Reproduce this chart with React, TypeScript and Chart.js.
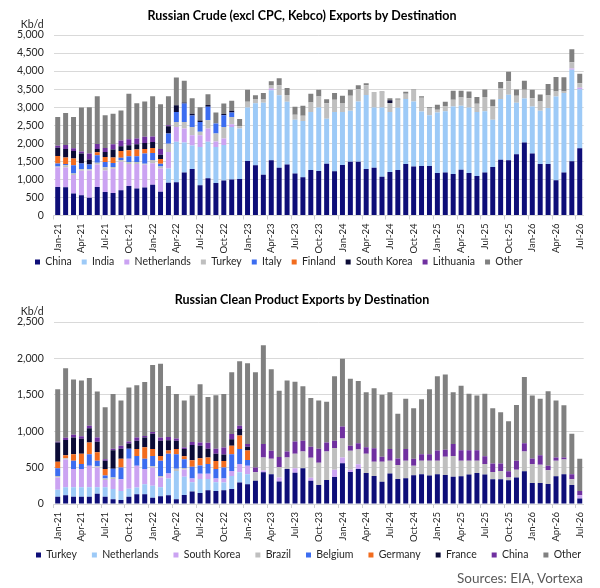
import React, { useEffect, useRef } from "react";
import { Chart, registerables } from "chart.js";

Chart.register(...registerables);

const FONT = "Lato, 'Open Sans', sans-serif";
Chart.defaults.font.family = FONT;

const months = [
  "Jan-21","Feb-21","Mar-21","Apr-21","May-21","Jun-21","Jul-21","Aug-21","Sep-21","Oct-21","Nov-21","Dec-21",
  "Jan-22","Feb-22","Mar-22","Apr-22","May-22","Jun-22","Jul-22","Aug-22","Sep-22","Oct-22","Nov-22","Dec-22",
  "Jan-23","Feb-23","Mar-23","Apr-23","May-23","Jun-23","Jul-23","Aug-23","Sep-23","Oct-23","Nov-23","Dec-23",
  "Jan-24","Feb-24","Mar-24","Apr-24","May-24","Jun-24","Jul-24","Aug-24","Sep-24","Oct-24","Nov-24","Dec-24",
  "Jan-25","Feb-25","Mar-25","Apr-25","May-25","Jun-25","Jul-25","Aug-25","Sep-25","Oct-25","Nov-25","Dec-25",
  "Jan-26","Feb-26","Mar-26","Apr-26","May-26","Jun-26","Jul-26",
];

const crudeTitle = "Russian Crude (excl CPC, Kebco) Exports by Destination";
const productTitle = "Russian Clean Product Exports by Destination";
const unitLabel = "Kb/d";
const sourceText = "Sources: EIA, Vortexa";

const crudeTicks = [0, 500, 1000, 1500, 2000, 2500, 3000, 3500, 4000, 4500, 5000];
const productTicks = [0, 500, 1000, 1500, 2000, 2500];

// ---------- Crude (kb/d) ----------
const crudeChina = [790,780,610,560,490,790,650,625,700,820, 750,775,850,660,910,920,1190,1290,840,1030,
  900,970,1000,1010,1510,1390,1130,1530,1320,1410, 1160,1060,1260,1235,1435,1225,1400,1490,1490,1290,
  1325,1070,1205,1260,1430,1355,1370,1370,1180,1190, 1150,1270,1180,1095,1190,1345,1545,1530,1695,2025,
  1715,1430,1430,975,1190,1500,1860];
const crudeIndia = [0,0,0,0,0,0,0,0,0,0, 0,0,0,0,390,1120,830,650,1060,1010,
  1000,980,1450,1400,1480,1720,1990,1940,2010,1740, 1490,1560,1610,1760,1245,1640,1465,1410,1670,2045,
  1670,1925,1660,1725,1795,1805,1510,1410,1675,1695, 1870,1770,1815,1770,1695,1305,1680,1815,1425,1215,
  1305,1470,1545,2320,2200,2535,1640];
const crudeNetherlands = [550,550,510,680,760,620,600,670,790,610, 680,630,600,640,460,410,390,280,320,370,
  150,180,80,0,0,0,0,50,0,0, 0,0,0,0,0,0,0,0,0,0,
  0,0,0,0,0,0,0,0,0,0, 0,0,0,0,0,0,0,0,0,0,
  0,0,0,0,0,40,40];
const crudeTurkey = [20,60,40,40,30,50,90,50,50,50, 50,30,90,60,230,140,180,230,100,230,
  220,320,200,60,160,100,90,80,280,190, 140,140,260,300,430,340,250,415,340,275,
  395,415,250,220,145,320,380,195,75,135, 185,230,255,230,395,370,305,375,195,240,
  230,260,350,140,45,170,125];
const crudeItaly = [80,40,230,160,130,210,140,110,60,160, 160,280,190,75,280,280,510,320,270,370,
  280,330,120,0,0,0,0,0,0,0, 0,0,0,0,0,0,0,0,0,0,
  0,0,0,0,0,0,0,0,0,0, 0,0,0,0,0,0,0,0,0,0,
  0,0,0,0,0,0,0];
const crudeFinland = [210,180,190,0,0,80,140,150,185,165, 185,130,140,130,0,0,0,0,0,0,
  0,0,0,0,0,0,0,0,0,0, 0,0,0,0,0,0,0,0,0,0,
  0,0,0,0,0,0,0,0,0,0, 0,0,0,0,0,0,0,0,0,0,
  0,0,0,0,0,0,0];
const crudeSouthKorea = [230,230,210,280,140,90,140,220,130,140, 150,165,165,120,200,185,30,50,40,50,
  0,30,50,0,0,0,0,0,0,0, 0,0,0,0,0,0,0,0,0,0,
  0,0,80,0,0,0,0,0,0,0, 0,0,0,0,0,0,0,0,0,0,
  0,0,0,0,0,0,0];
const crudeLithuania = [50,110,70,50,170,140,110,150,165,165, 155,170,150,160,30,0,0,0,0,0,
  0,0,0,0,0,0,0,0,0,0, 0,0,0,0,0,0,0,0,0,0,
  0,0,0,0,0,0,0,0,0,0, 0,0,0,0,0,0,0,0,0,0,
  0,0,0,0,0,0,0];
const crudeOther = [800,890,870,1220,1280,1320,910,845,830,1260, 980,980,1115,1240,800,770,600,430,370,300,
  300,290,280,200,330,120,180,120,190,190, 220,280,240,185,110,185,200,165,110,55,
  20,25,55,35,55,20,40,25,137,130, 250,185,185,185,210,195,170,260,175,250,
  230,190,315,405,395,360,260];

// ---------- Clean products (kb/d) ----------
const prodTurkey = [100,120,100,100,100,140,100,65,55,100, 135,135,85,105,120,65,125,170,150,190,
  180,190,205,295,270,320,435,410,310,480, 430,490,320,260,330,370,560,440,480,425,
  385,305,420,345,355,395,410,390,410,400, 375,380,405,425,405,340,340,325,365,450,
  290,290,275,380,410,260,75];
const prodNetherlands = [95,110,130,130,130,90,130,140,125,110, 90,135,165,125,230,390,250,130,195,155,
  120,105,180,140,140,0,0,0,0,0, 0,0,0,0,0,0,0,0,0,0,
  0,0,0,0,0,0,0,0,0,0, 0,0,0,0,0,0,0,0,0,0,
  0,0,0,0,0,0,0];
const prodSouthKorea = [170,380,250,250,295,270,100,140,160,410, 300,210,250,135,70,0,100,50,70,70,
  50,55,70,115,115,0,25,0,55,0, 60,0,40,0,0,100,80,30,65,0,
  0,0,0,0,0,0,0,0,0,0, 0,0,0,0,0,0,0,0,0,0,
  0,0,0,0,0,0,45];
const prodBrazil = [20,20,0,0,0,20,20,20,0,0, 0,0,20,20,0,30,20,0,0,0,
  0,0,0,0,0,115,180,210,140,160, 200,230,275,305,390,300,260,260,205,265,
  195,275,175,190,240,130,185,205,185,250, 285,215,190,170,145,100,115,40,105,270,
  260,250,190,215,200,80,0];
const prodBelgium = [105,0,115,70,160,75,40,120,160,140, 135,140,140,210,270,200,120,160,115,135,
  130,150,230,205,80,0,0,0,0,0, 0,0,0,0,0,0,0,0,0,0,
  0,0,0,0,0,0,0,0,0,0, 0,0,0,0,0,0,0,0,0,0,
  0,0,0,0,0,0,0];
const prodGermany = [90,40,90,140,160,115,90,0,120,0, 95,160,95,65,45,70,40,90,100,90,
  110,90,115,185,130,0,0,0,0,0, 0,0,0,0,0,0,0,0,0,0,
  0,0,0,0,0,0,0,0,0,0, 0,0,0,0,0,0,0,0,0,0,
  0,0,0,0,0,0,0];
const prodFrance = [265,210,230,205,195,145,115,255,140,70, 115,135,210,210,140,115,100,210,170,120,
  100,90,90,90,50,0,0,0,0,0, 0,0,0,0,0,0,0,0,0,0,
  0,0,0,0,0,0,0,0,0,0, 0,0,0,0,0,0,0,0,0,0,
  0,0,0,0,0,0,0];
const prodChina = [10,30,35,35,35,60,20,20,40,30, 45,20,25,45,45,30,20,40,45,80,
  70,95,70,45,40,65,185,110,140,80, 170,150,150,195,125,100,165,70,85,90,
  185,70,160,90,160,95,90,90,140,95, 165,145,145,145,105,115,100,85,125,115,
  75,130,60,45,30,70,60];
const prodOther = [720,955,760,765,655,630,715,750,620,740, 715,740,920,1010,700,610,645,640,800,630,
  735,735,850,885,1110,1310,1355,1120,910,975, 820,746,670,660,560,885,930,920,855,755,
  825,850,780,615,690,695,755,890,1020,1035, 710,885,775,750,860,760,705,685,765,910,
  865,775,1025,780,715,555,440];

const C_NAVY = "#0e0e78";
const C_LBLUE = "#9dcaf7";
const C_LAV = "#cba3f2";
const C_LGRAY = "#bfbfbf";
const C_BLUE = "#3c6df0";
const C_ORANGE = "#f26c1e";
const C_DARK = "#0b0b36";
const C_PURPLE = "#7030a0";
const C_GRAY = "#808080";

const crudeSeries = [
  { label: "China", data: crudeChina, color: C_NAVY },
  { label: "India", data: crudeIndia, color: C_LBLUE },
  { label: "Netherlands", data: crudeNetherlands, color: C_LAV },
  { label: "Turkey", data: crudeTurkey, color: C_LGRAY },
  { label: "Italy", data: crudeItaly, color: C_BLUE },
  { label: "Finland", data: crudeFinland, color: C_ORANGE },
  { label: "South Korea", data: crudeSouthKorea, color: C_DARK },
  { label: "Lithuania", data: crudeLithuania, color: C_PURPLE },
  { label: "Other", data: crudeOther, color: C_GRAY },
];

const productSeries = [
  { label: "Turkey", data: prodTurkey, color: C_NAVY },
  { label: "Netherlands", data: prodNetherlands, color: C_LBLUE },
  { label: "South Korea", data: prodSouthKorea, color: C_LAV },
  { label: "Brazil", data: prodBrazil, color: C_LGRAY },
  { label: "Belgium", data: prodBelgium, color: C_BLUE },
  { label: "Germany", data: prodGermany, color: C_ORANGE },
  { label: "France", data: prodFrance, color: C_DARK },
  { label: "China", data: prodChina, color: C_PURPLE },
  { label: "Other", data: prodOther, color: C_GRAY },
];

const CANVAS_W = 640;
const AREA_LEFT = 53.75;
const AREA_RIGHT = 583.7;

const overlayPlugin = {
  id: "overlay",
  afterDraw(chart: any, _args: any, opts: any) {
    const { ctx, chartArea } = chart;
    ctx.save();
    ctx.fillStyle = "#000";
    ctx.font = `bold 12.5px ${FONT}`;
    ctx.textAlign = "center";
    ctx.textBaseline = "middle";
    ctx.fillText(opts.title, opts.titleX, opts.titleY);
    ctx.font = `10.5px ${FONT}`;
    ctx.fillStyle = "#262626";
    ctx.textAlign = "right";
    ctx.fillText(unitLabel, chartArea.left - 10, chartArea.top - 10);
    ctx.restore();
  },
};

// let tick labels draw outside their (deliberately tight) scale boxes
const noLabelClip = (s: any) => {
  s._computeLabelArea = () => undefined;
};

function buildConfig(p: {
  series: { label: string; data: number[]; color: string }[];
  ticks: number[];
  title: string;
  titleY: number;
  padLeft: number;
  padTop: number;
  padBottom: number;
  legendPad: number;
  xHeight: number;
}) {
  const max = p.ticks[p.ticks.length - 1];
  const step = p.ticks[1] - p.ticks[0];
  return {
    type: "bar" as const,
    data: {
      labels: months,
      datasets: p.series.map((s) => ({
        label: s.label,
        data: s.data,
        backgroundColor: s.color,
        borderWidth: 0,
        barPercentage: 0.63,
        categoryPercentage: 1,
      })),
    },
    plugins: [overlayPlugin],
    options: {
      responsive: false,
      animation: false as const,
      layout: { padding: { left: p.padLeft, right: 0, top: p.padTop, bottom: p.padBottom } },
      plugins: {
        title: { display: false },
        tooltip: { enabled: false },
        overlay: { title: p.title, titleX: 302, titleY: p.titleY },
        legend: {
          display: true,
          position: "bottom" as const,
          align: "start" as const,
          labels: {
            boxWidth: 5,
            boxHeight: 5,
            padding: p.legendPad,
            color: "#262626",
            font: { family: FONT, size: 10.5 },
          },
        },
      },
      scales: {
        x: {
          stacked: true,
          grid: {
            display: true,
            drawOnChartArea: false,
            drawTicks: true,
            tickLength: 4,
            color: (c: any) => (c.index % 3 === 0 ? "#d0d0d0" : "rgba(0,0,0,0)"),
          },
          border: { display: true, color: "#d9d9d9" },
          ticks: {
            autoSkip: false,
            maxRotation: 90,
            minRotation: 90,
            padding: 4,
            color: "#262626",
            font: { family: FONT, size: 9.5 },
            callback: (_v: any, i: number) => (i % 3 === 0 ? months[i] : ""),
          },
          afterFit: (s: any) => {
            s.height = p.xHeight;
            noLabelClip(s);
          },
        },
        y: {
          stacked: true,
          min: 0,
          max,
          grid: { color: "#d9d9d9", drawTicks: false },
          border: { display: false },
          ticks: {
            stepSize: step,
            padding: 10,
            color: "#262626",
            font: { family: FONT, size: 10.5 },
            callback: (v: any) => Number(v).toLocaleString("en-US"),
          },
          afterFit: (s: any) => {
            s.width = AREA_LEFT - p.padLeft;
            noLabelClip(s);
          },
        },
        y2: {
          type: "linear" as const,
          position: "right" as const,
          display: true,
          grid: { display: false, drawTicks: false },
          border: { display: false },
          ticks: { display: false },
          afterFit: (s: any) => {
            s.width = CANVAS_W - AREA_RIGHT;
          },
        },
      },
    },
  };
}

function BarChart(props: { config: any; top: number; height: number }) {
  const ref = useRef<HTMLCanvasElement | null>(null);
  useEffect(() => {
    if (!ref.current) return;
    const chart = new Chart(ref.current, props.config);
    return () => chart.destroy();
  }, []);
  return (
    <canvas
      ref={ref}
      width={CANVAS_W}
      height={props.height}
      style={{ position: "absolute", left: 0, top: props.top, width: CANVAS_W, height: props.height }}
    />
  );
}

export default function App() {
  const crudeConfig = buildConfig({
    series: crudeSeries,
    ticks: crudeTicks,
    title: crudeTitle,
    titleY: 15.5,
    padLeft: 25,
    padTop: 35,
    padBottom: 2.75,
    legendPad: 10,
    xHeight: 31.25,
  });
  const productConfig = buildConfig({
    series: productSeries,
    ticks: productTicks,
    title: productTitle,
    titleY: 18,
    padLeft: 21,
    padTop: 40,
    padBottom: 1.75,
    legendPad: 15,
    xHeight: 30.75,
  });
  return (
    <div
      style={{
        position: "absolute",
        left: 0,
        top: 0,
        width: 600,
        height: 588,
        overflow: "hidden",
        background: "#ffffff",
      }}
    >
      <BarChart config={crudeConfig} top={0} height={280} />
      <BarChart config={productConfig} top={282} height={290} />
      <div
        style={{
          position: "absolute",
          right: 17,
          top: 570,
          fontFamily: FONT,
          fontSize: 13.5,
          lineHeight: "16px",
          color: "#595959",
          whiteSpace: "nowrap",
        }}
      >
        {sourceText}
      </div>
    </div>
  );
}
